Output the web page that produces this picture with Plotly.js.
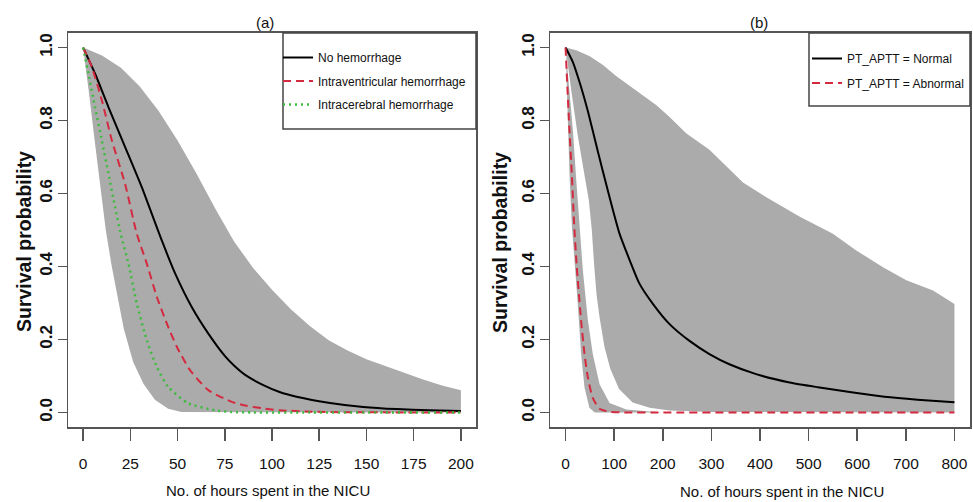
<!DOCTYPE html>
<html>
<head>
<meta charset="utf-8">
<script src="https://cdn.plot.ly/plotly-3.0.1.min.js"></script>
<style>
html,body{margin:0;padding:0;background:#fff;}
#chart{width:973px;height:502px;}
</style>
</head>
<body>
<div id="chart"></div>
<script>
// ---------- Panel (a): hemorrhage ----------
const aTicks = [0, 25, 50, 75, 100, 125, 150, 175, 200];
const aBandUpperX = [0, 10, 20, 30, 40, 50, 60, 70, 80, 90, 100, 110, 120, 130, 140, 150, 160, 170, 180, 190, 200];
const aBandUpperY = [1, 0.978, 0.945, 0.893, 0.826, 0.745, 0.655, 0.558, 0.468, 0.396, 0.336, 0.283, 0.237, 0.198, 0.17, 0.146, 0.127, 0.108, 0.09, 0.074, 0.061];
const aBandLowerX = [0, 3, 6, 9, 12, 15, 18, 21.5, 26.5, 32, 38, 45, 52, 60, 200];
const aBandLowerY = [1, 0.88, 0.75, 0.62, 0.5, 0.405, 0.32, 0.23, 0.138, 0.078, 0.035, 0.01, 0.001, 0, 0];
const aNoHemX = [0, 6.3, 13.4, 22.2, 31, 41.6, 48.7, 57.5, 66.3, 75, 80, 86.6, 95.4, 104, 113, 130.7, 148.3, 166, 183, 200];
const aNoHemY = [1, 0.929, 0.837, 0.728, 0.618, 0.472, 0.381, 0.289, 0.216, 0.155, 0.128, 0.1, 0.075, 0.056, 0.043, 0.026, 0.015, 0.009, 0.006, 0.004];
const aIvhX = [0, 4.6, 9.9, 15.2, 22.2, 28.4, 33.7, 39, 44.3, 49.6, 56.6, 66.3, 78.7, 86.6, 95.4, 104, 121, 140, 170, 200];
const aIvhY = [1, 0.947, 0.856, 0.746, 0.627, 0.49, 0.408, 0.317, 0.244, 0.18, 0.116, 0.061, 0.029, 0.018, 0.011, 0.006, 0.002, 0.0005, 0, 0];
const aIchX = [0, 2.8, 6.3, 9.9, 13.4, 16.9, 20, 24, 28.4, 33.7, 39, 45, 55.7, 69.8, 78.7, 90, 120, 160, 200];
const aIchY = [1, 0.929, 0.837, 0.746, 0.655, 0.563, 0.488, 0.408, 0.299, 0.198, 0.125, 0.07, 0.025, 0.006, 0.001, 0, 0, 0, 0];

// ---------- Panel (b): PT_APTT ----------
const bTicks = [0, 100, 200, 300, 400, 500, 600, 700, 800];
const bWideUpperX = [0, 22, 49, 77, 104, 132, 159, 187, 214, 248, 296, 331, 365, 413, 482, 550, 598, 653, 701, 756, 800];
const bWideUpperY = [1, 0.993, 0.977, 0.952, 0.922, 0.895, 0.87, 0.842, 0.81, 0.765, 0.72, 0.675, 0.63, 0.59, 0.536, 0.49, 0.444, 0.398, 0.362, 0.334, 0.297];
const bWideLowerX = [0, 12, 25, 38, 48, 54, 59, 64, 70, 80, 92, 110, 138, 173, 214, 300, 400, 800];
const bWideLowerY = [1, 0.88, 0.76, 0.66, 0.58, 0.5, 0.4, 0.32, 0.26, 0.18, 0.12, 0.064, 0.027, 0.013, 0.005, 0.001, 0, 0];
const bNarrowUpperX = [0, 8, 15, 22, 28.8, 35.6, 46, 56, 70, 90.5, 125, 170, 200];
const bNarrowUpperY = [1, 0.88, 0.775, 0.637, 0.5, 0.389, 0.252, 0.16, 0.077, 0.026, 0.008, 0.002, 0];
const bNarrowLowerX = [0, 4.8, 8.5, 13, 17, 25, 32, 39, 49, 60, 200];
const bNarrowLowerY = [1, 0.78, 0.64, 0.51, 0.43, 0.3, 0.16, 0.068, 0.013, 0, 0];
const bNormalX = [0, 15, 30, 45, 60, 75, 92, 111, 132, 152, 180, 214, 255, 296, 337, 392, 461, 519, 588, 656, 724, 800];
const bNormalY = [1, 0.96, 0.9, 0.83, 0.75, 0.67, 0.582, 0.49, 0.417, 0.353, 0.297, 0.242, 0.196, 0.16, 0.132, 0.105, 0.082, 0.069, 0.055, 0.043, 0.035, 0.028];
const bAbnormalX = [0, 7, 13, 17.5, 23, 32, 39, 46, 56, 70, 90, 120, 200, 400, 600, 800];
const bAbnormalY = [1, 0.8, 0.65, 0.52, 0.4, 0.252, 0.16, 0.095, 0.04, 0.01, 0.002, 0, 0, 0, 0, 0];

const yTicks = [0, 0.2, 0.4, 0.6, 0.8, 1.0];
const yTickText = ['0.0', '0.2', '0.4', '0.6', '0.8', '1.0'];

// ---------- styling ----------
const NARROW = "'Liberation Sans Narrow', 'Arial Narrow', 'Liberation Sans', sans-serif";
const SANS = "'Liberation Sans', Arial, sans-serif";
const BAND = 'rgb(171,171,171)';
const RED = '#D42A3F';
const GREEN = '#3DBB3D';
const BOX = '#555555';
const W = 973, H = 502;
const px = v => v / W;
const py = v => (H - v) / H;

function poly(ux, uy, lx, ly) {
  return {
    x: ux.concat(lx.slice().reverse()),
    y: uy.concat(ly.slice().reverse())
  };
}

const pa = poly(aBandUpperX, aBandUpperY, aBandLowerX, aBandLowerY);
const pbW = poly(bWideUpperX, bWideUpperY, bWideLowerX, bWideLowerY);
const pbN = poly(bNarrowUpperX, bNarrowUpperY, bNarrowLowerX, bNarrowLowerY);

const traces = [
  {x: pa.x, y: pa.y, type: 'scatter', mode: 'lines', fill: 'toself', fillcolor: BAND,
   line: {width: 0, color: BAND}, showlegend: false, xaxis: 'x', yaxis: 'y', hoverinfo: 'skip'},
  {x: aNoHemX, y: aNoHemY, type: 'scatter', mode: 'lines', name: 'No hemorrhage', legendgroup: 'g1',
   line: {color: '#000', width: 2, shape: 'spline', smoothing: 0.6}, xaxis: 'x', yaxis: 'y', legend: 'legend'},
  {x: aIvhX, y: aIvhY, type: 'scatter', mode: 'lines', name: 'Intraventricular hemorrhage', legendgroup: 'g2',
   line: {color: RED, width: 2, dash: '8px,5px', shape: 'spline', smoothing: 0.6}, xaxis: 'x', yaxis: 'y', legend: 'legend'},
  {x: aIchX, y: aIchY, type: 'scatter', mode: 'lines', name: 'Intracerebral hemorrhage', legendgroup: 'g3',
   line: {color: GREEN, width: 2.5, dash: '2px,4px', shape: 'spline', smoothing: 0.6}, xaxis: 'x', yaxis: 'y', legend: 'legend'},

  {x: pbW.x, y: pbW.y, type: 'scatter', mode: 'lines', fill: 'toself', fillcolor: BAND,
   line: {width: 0, color: BAND}, showlegend: false, xaxis: 'x2', yaxis: 'y2', hoverinfo: 'skip'},
  {x: pbN.x, y: pbN.y, type: 'scatter', mode: 'lines', fill: 'toself', fillcolor: BAND,
   line: {width: 0, color: BAND}, showlegend: false, xaxis: 'x2', yaxis: 'y2', hoverinfo: 'skip'},
  {x: bNormalX, y: bNormalY, type: 'scatter', mode: 'lines', name: 'PT_APTT = Normal', legendgroup: 'h1',
   line: {color: '#000', width: 2, shape: 'spline', smoothing: 0.6}, xaxis: 'x2', yaxis: 'y2', legend: 'legend2'},
  {x: bAbnormalX, y: bAbnormalY, type: 'scatter', mode: 'lines', name: 'PT_APTT = Abnormal', legendgroup: 'h2',
   line: {color: RED, width: 2, dash: '8px,5px', shape: 'spline', smoothing: 0.6}, xaxis: 'x2', yaxis: 'y2', legend: 'legend2'}
];

function xAxis(domain, range, ticks, anchor) {
  return {
    domain: domain, range: range, anchor: anchor,
    tickmode: 'array', tickvals: ticks, ticktext: ticks.map(String),
    ticks: 'outside', ticklen: 12, tickwidth: 1.5, tickcolor: BOX,
    showline: true, mirror: true, linecolor: BOX, linewidth: 1.5,
    showgrid: false, zeroline: false, ticklabelstandoff: 10,
    tickfont: {family: NARROW, size: 15.5, color: '#111'}
  };
}
function yAxis(anchor) {
  return {
    domain: [0.1494, 0.9343], range: [-0.04, 1.04], anchor: anchor,
    tickmode: 'array', tickvals: yTicks, ticktext: yTickText, tickangle: -90,
    ticks: 'outside', ticklen: 9, tickwidth: 1.5, tickcolor: BOX,
    showline: true, mirror: true, linecolor: BOX, linewidth: 1.5,
    showgrid: false, zeroline: false, ticklabelstandoff: -1,
    tickfont: {family: SANS, size: 17, color: '#111', weight: 'bold'}
  };
}

const legendCommon = {
  bgcolor: 'rgba(0,0,0,0)', borderwidth: 0,
  font: {family: NARROW, size: 12, color: '#111'},
  xanchor: 'left', yanchor: 'top', itemwidth: 30,
  traceorder: 'grouped'
};

const layout = {
  width: W, height: H,
  margin: {l: 0, r: 0, t: 0, b: 0},
  paper_bgcolor: '#fff', plot_bgcolor: '#fff',
  showlegend: true,
  xaxis: xAxis([px(68), px(476)], [-8, 208], aTicks, 'y'),
  yaxis: yAxis('x'),
  xaxis2: xAxis([px(550), px(970)], [-32, 832], bTicks, 'y2'),
  yaxis2: yAxis('x2'),
  legend: Object.assign({x: px(278), y: py(43), tracegroupgap: 4.5}, legendCommon),
  legend2: Object.assign({x: px(807), y: py(44), tracegroupgap: 5.5}, legendCommon),
  shapes: [
    {type: 'rect', xref: 'paper', yref: 'paper', x0: px(283), x1: px(476), y0: py(129), y1: py(33),
     line: {color: '#444', width: 1.5}, fillcolor: 'rgba(0,0,0,0)'},
    {type: 'rect', xref: 'paper', yref: 'paper', x0: px(809), x1: px(970), y0: py(106), y1: py(33),
     line: {color: '#444', width: 1.5}, fillcolor: 'rgba(0,0,0,0)'}
  ],
  annotations: [
    {text: '(a)', x: px(265), y: py(23), xref: 'paper', yref: 'paper', showarrow: false,
     xanchor: 'center', yanchor: 'middle', font: {family: NARROW, size: 15, color: '#111'}},
    {text: '(b)', x: px(759), y: py(23), xref: 'paper', yref: 'paper', showarrow: false,
     xanchor: 'center', yanchor: 'middle', font: {family: NARROW, size: 15, color: '#111'}},
    {text: 'No. of hours spent in the NICU', x: px(268), y: py(490), xref: 'paper', yref: 'paper',
     showarrow: false, xanchor: 'center', yanchor: 'middle', font: {family: NARROW, size: 15, color: '#111'}},
    {text: 'No. of hours spent in the NICU', x: px(782), y: py(491), xref: 'paper', yref: 'paper',
     showarrow: false, xanchor: 'center', yanchor: 'middle', font: {family: NARROW, size: 15, color: '#111'}},
    {text: 'Survival probability', x: px(24), y: py(242), xref: 'paper', yref: 'paper',
     showarrow: false, textangle: -90, xanchor: 'center', yanchor: 'middle',
     font: {family: SANS, size: 19.5, color: '#111', weight: 'bold'}},
    {text: 'Survival probability', x: px(500), y: py(243), xref: 'paper', yref: 'paper',
     showarrow: false, textangle: -90, xanchor: 'center', yanchor: 'middle',
     font: {family: SANS, size: 19.5, color: '#111', weight: 'bold'}}
  ]
};

Plotly.newPlot('chart', traces, layout, {staticPlot: true, displayModeBar: false});
</script>
</body>
</html>
